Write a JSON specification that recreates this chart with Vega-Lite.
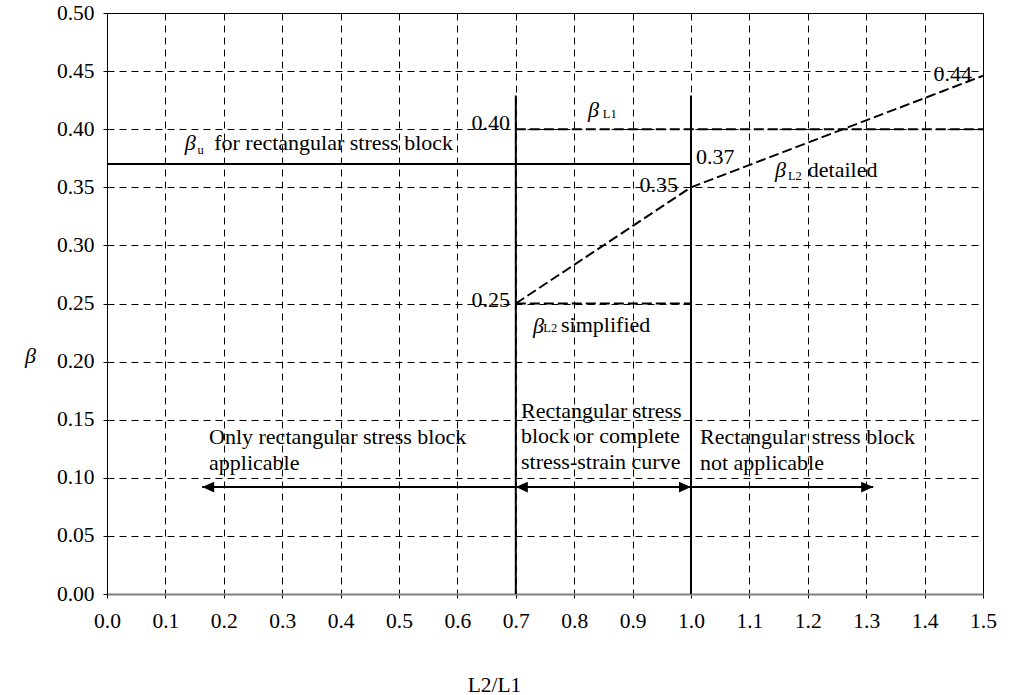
{
  "$schema": "https://vega.github.io/schema/vega-lite/v6.json",
  "width": 876,
  "height": 581,
  "autosize": {"type": "none"},
  "padding": {"left": 107, "top": 13, "right": 30, "bottom": 101},
  "background": "#ffffff",
  "config": {
    "font": "Liberation Serif",
    "view": {"stroke": "#000000", "strokeWidth": 1},
    "axis": {
      "labelFont": "Liberation Serif",
      "titleFont": "Liberation Serif",
      "labelColor": "#000000",
      "titleColor": "#000000",
      "labelFontSize": 21.5,
      "titleFontSize": 21.5,
      "titleFontWeight": "normal",
      "tickColor": "#000000",
      "tickSize": 4,
      "grid": true,
      "gridColor": "#000000",
      "gridDash": [7, 5],
      "gridWidth": 1,
      "labelOverlap": false,
      "labelFlush": false
    }
  },
  "encoding": {
    "x": {
      "field": "x",
      "type": "quantitative",
      "scale": {"domain": [0, 1.5], "nice": false, "zero": false},
      "axis": {
        "values": [0, 0.1, 0.2, 0.3, 0.4, 0.5, 0.6, 0.7, 0.8, 0.9, 1.0, 1.1, 1.2, 1.3, 1.4, 1.5],
        "format": ".1f",
        "labelPadding": 12,
        "domainColor": "#808080",
        "domainWidth": 2,
        "title": "L2/L1",
        "titleX": 387,
        "titleY": 91,
        "titleAlign": "center",
        "titleBaseline": "middle"
      }
    },
    "y": {
      "field": "y",
      "type": "quantitative",
      "scale": {"domain": [0, 0.5], "nice": false, "zero": false},
      "axis": {
        "values": [0, 0.05, 0.1, 0.15, 0.2, 0.25, 0.3, 0.35, 0.4, 0.45, 0.5],
        "format": ".2f",
        "labelPadding": 9,
        "domainColor": "#000000",
        "domainWidth": 1,
        "title": "β",
        "titleAngle": 0,
        "titleFontStyle": "italic",
        "titleFontSize": 22,
        "titleX": -77,
        "titleY": 342,
        "titleAlign": "center",
        "titleBaseline": "middle"
      }
    }
  },
  "layer": [
    {
      "data": {"values": [
        {"line": "beta_u", "x": 0, "y": 0.37},
        {"line": "beta_u", "x": 1.0, "y": 0.37},
        {"line": "v07", "x": 0.7, "y": 0},
        {"line": "v07", "x": 0.7, "y": 0.429},
        {"line": "v10", "x": 1.0, "y": 0},
        {"line": "v10", "x": 1.0, "y": 0.429},
        {"line": "arrow1", "x": 0.163, "y": 0.092},
        {"line": "arrow1", "x": 0.7, "y": 0.092},
        {"line": "arrow2", "x": 0.7, "y": 0.092},
        {"line": "arrow2", "x": 1.0, "y": 0.092},
        {"line": "arrow3", "x": 1.0, "y": 0.092},
        {"line": "arrow3", "x": 1.312, "y": 0.092}
      ]},
      "mark": {"type": "line", "color": "#000000", "strokeWidth": 2},
      "encoding": {"detail": {"field": "line"}}
    },
    {
      "data": {"values": [
        {"line": "L1", "x": 0.7, "y": 0.40},
        {"line": "L1", "x": 1.5, "y": 0.40},
        {"line": "L2d", "x": 0.7, "y": 0.25},
        {"line": "L2d", "x": 1.0, "y": 0.35},
        {"line": "L2d", "x": 1.5, "y": 0.446},
        {"line": "L2s", "x": 0.7, "y": 0.25},
        {"line": "L2s", "x": 1.0, "y": 0.25}
      ]},
      "mark": {"type": "line", "color": "#000000", "strokeWidth": 2, "strokeDash": [10, 4]},
      "encoding": {"detail": {"field": "line"}}
    },
    {
      "data": {"values": [
        {"x": 0.163, "y": 0.092, "dir": "left"},
        {"x": 0.7, "y": 0.092, "dir": "left"},
        {"x": 1.0, "y": 0.092, "dir": "right"},
        {"x": 1.312, "y": 0.092, "dir": "right"}
      ]},
      "mark": {"type": "point", "filled": true, "color": "#000000", "opacity": 1, "size": 144, "strokeWidth": 0},
      "encoding": {
        "shape": {
          "field": "dir",
          "type": "nominal",
          "scale": {"domain": ["left", "right"], "range": ["M0,0L2,-0.9L2,0.9Z", "M0,0L-2,-0.9L-2,0.9Z"]},
          "legend": null
        }
      }
    },
    {
      "data": {"values": [
        {"x": 1.0085, "y": 0.376, "label": "0.37"},
        {"x": 1.2, "y": 0.365, "label": "detailed"},
        {"x": 0.7775, "y": 0.2315, "label": "simplified"},
        {"x": 0.1747, "y": 0.1351, "label": ["Only rectangular stress block", "applicable"]},
        {"x": 0.7089, "y": 0.1575, "label": ["Rectangular stress", "block or complete", "stress-strain curve"]},
        {"x": 1.0154, "y": 0.1351, "label": ["Rectangular stress block", "not applicable"]}
      ]},
      "mark": {"type": "text", "align": "left", "baseline": "middle", "font": "Liberation Serif", "fontSize": 22, "lineHeight": 25.5, "color": "#000000"},
      "encoding": {"text": {"field": "label"}}
    },
    {
      "data": {"values": [
        {"x": 0.5925, "y": 0.388, "label": "for rectangular stress block"},
        {"x": 0.69, "y": 0.4053, "label": "0.40"},
        {"x": 0.9777, "y": 0.352, "label": "0.35"},
        {"x": 0.69, "y": 0.253, "label": "0.25"},
        {"x": 1.481, "y": 0.4475, "label": "0.44"}
      ]},
      "mark": {"type": "text", "align": "right", "baseline": "middle", "font": "Liberation Serif", "fontSize": 22, "color": "#000000"},
      "encoding": {"text": {"field": "label"}}
    },
    {
      "data": {"values": [
        {"x": 0.133, "y": 0.388, "label": "β"},
        {"x": 0.8236, "y": 0.4165, "label": "β"},
        {"x": 0.7295, "y": 0.2306, "label": "β"},
        {"x": 1.144, "y": 0.365, "label": "β"}
      ]},
      "mark": {"type": "text", "align": "left", "baseline": "middle", "font": "Liberation Serif", "fontStyle": "italic", "fontSize": 22, "color": "#000000"},
      "encoding": {"text": {"field": "label"}}
    },
    {
      "data": {"values": [
        {"x": 0.155, "y": 0.382, "label": "u"},
        {"x": 0.849, "y": 0.413, "label": "L1"},
        {"x": 0.747, "y": 0.229, "label": "L2"},
        {"x": 1.166, "y": 0.36, "label": "L2"}
      ]},
      "mark": {"type": "text", "align": "left", "baseline": "middle", "font": "Liberation Serif", "fontSize": 12.5, "color": "#000000"},
      "encoding": {"text": {"field": "label"}}
    }
  ]
}
